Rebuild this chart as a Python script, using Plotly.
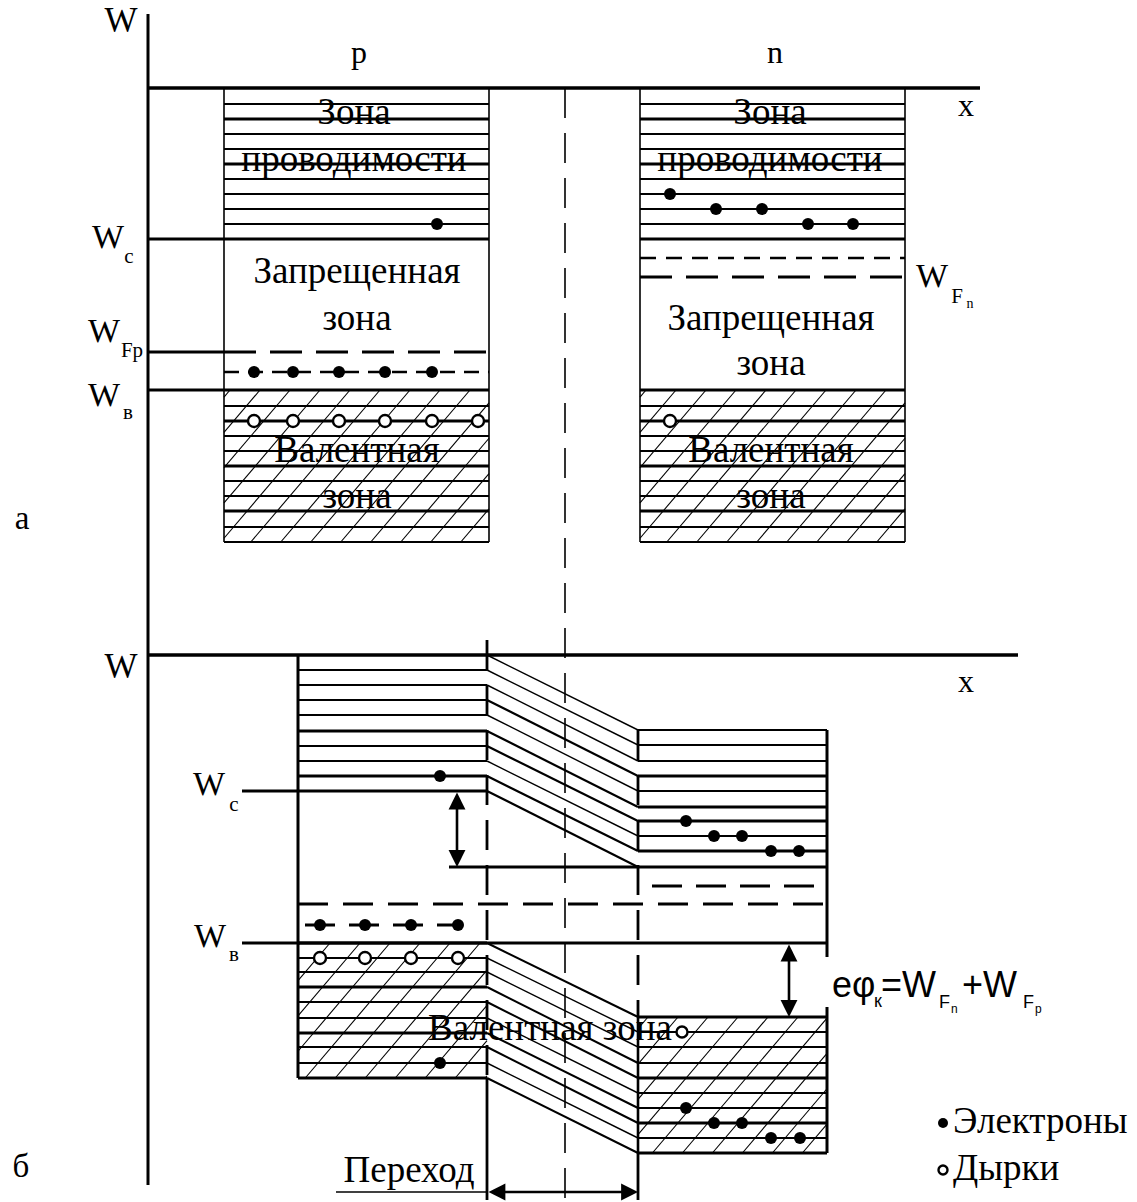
import plotly.graph_objects as go

SERIF = "Liberation Serif, Times New Roman, serif"
SANS = "Liberation Sans, Arial, sans-serif"

# ---------------- data (diagram energy levels, in drawing units) ----------------
# Panel a: separate p and n semiconductors
A_AXIS_Y = 88
A_COND_LEVELS = [88, 104, 119, 134, 149, 164, 179, 194, 209, 224, 239]
A_COND_THICK = [119, 164, 239]
A_VAL_LEVELS = [390, 406, 421, 436, 451, 466, 481, 496, 511, 527, 542]
A_VAL_THICK = [390, 421, 466, 511]
A_P_BOX = [224, 489]
A_N_BOX = [640, 905]
A_WC = 239
A_WFP = 352
A_ACCEPTOR = 372
A_WV = 390
A_DONOR = 258
A_WFN = 277
A_P_COND_E_X = [437]
A_P_COND_E_Y = [224]
A_ACC_E_X = [254, 293, 339, 385, 432]
A_P_HOLE_X = [254, 293, 339, 385, 432, 478]
A_P_HOLE_Y = 421
A_N_COND_E_X = [670, 716, 762, 808, 853]
A_N_COND_E_Y = [194, 209, 209, 224, 224]
A_N_HOLE_X = [670]
A_N_HOLE_Y = [421]

# Panel b: p-n junction
B_AXIS_Y = 655
B_P_X = [298, 487]
B_N_X = [638, 827]
B_P_COND = [655, 670, 685, 700, 715, 731, 746, 761, 776, 791]
B_N_COND = [730, 745, 761, 776, 791, 807, 821, 836, 851, 867]
B_P_COND_THICK = [731, 776, 791]
B_N_COND_THICK = [776, 807, 821, 851, 867]
B_P_VAL = [943, 958, 972, 987, 1002, 1018, 1033, 1047, 1063, 1078]
B_N_VAL = [1017, 1032, 1047, 1063, 1078, 1093, 1108, 1123, 1138, 1153]
B_P_VAL_THICK = [943, 987, 1033, 1078]
B_N_VAL_THICK = [1017, 1078, 1123, 1153]
B_WC = 791
B_WC_N = 867
B_WF = 904
B_DONOR = 886
B_ACCEPTOR = 925
B_WV = 943
B_ACC_E_X = [320, 365, 411, 458]
B_P_HOLE_X = [320, 365, 411, 458]
B_P_HOLE_Y = 958
B_P_COND_E = ([440], [776])
B_P_VAL_E = ([440], [1063])
B_N_COND_E_X = [686, 714, 742, 771, 799]
B_N_COND_E_Y = [821, 836, 836, 851, 851]
B_N_VAL_E_X = [686, 714, 742, 771, 800]
B_N_VAL_E_Y = [1108, 1123, 1123, 1138, 1138]
B_N_HOLE = ([682], [1032])

AXIS_X = 148
CENTER_X = 565

fig = go.Figure()

# ---------------- text (drawn first so lines cross over it) ----------------
def label(x, y, text, size, font=SERIF, pos="middle center"):
    fig.add_trace(go.Scatter(x=[x], y=[y], mode="text", text=[text],
                             textposition=pos,
                             textfont=dict(family=font, size=size, color="black"),
                             hoverinfo="skip"))

ZS = 37
label(121, 23, "W", 35)
label(359, 55, "p", 32)
label(775, 55, "n", 32)
label(966, 108, "x", 32)
label(108, 239, "W", 34); label(129, 258, "c", 21)
label(104, 333, "W", 34); label(132, 352, "Fp", 21)
label(104, 397, "W", 34); label(128, 414, "в", 21)
label(932, 278, "W", 34); label(957, 298, "F", 21); label(970, 304, "n", 14)
for cx in (354, 770):
    label(cx, 115, "Зона", ZS)
    label(cx, 162, "проводимости", ZS)
label(357, 274, "Запрещенная", ZS); label(357, 321, "зона", ZS)
label(771, 321, "Запрещенная", ZS); label(771, 366, "зона", ZS)
for cx in (357, 771):
    label(cx, 453, "Валентная", ZS)
    label(cx, 499, "зона", ZS)
label(22, 521, "а", 33)
label(21, 1169, "б", 33)

label(121, 669, "W", 35)
label(966, 684, "x", 32)
label(209, 786, "W", 34); label(234, 806, "c", 21)
label(210, 938, "W", 34); label(234, 956, "в", 21)
label(550, 1031, "Валентная зона", 37)
label(409, 1173, "Переход", 37)
label(953, 1124, "Электроны", 37, pos="middle right")
label(953, 1171, "Дырки", 37, pos="middle right")

# e phi label pieces
label(832, 988, "eφ", 36, SANS, "middle right")
label(874, 1002, "к", 18, SANS, "middle right")
label(881, 988, "=W", 36, SANS, "middle right")
label(939, 1003, "F", 18, SANS, "middle right")
label(951, 1010, "n", 12, SANS, "middle right")
label(962, 988, "+W", 36, SANS, "middle right")
label(1023, 1003, "F", 18, SANS, "middle right")
label(1035, 1010, "p", 12, SANS, "middle right")

# ---------------- line segments ----------------
segs = {}

def seg(x0, y0, x1, y1, w=2.0, dash="solid"):
    xs, ys = segs.setdefault((w, dash), ([], []))
    xs.extend([x0, x1, None])
    ys.extend([y0, y1, None])

def hatch(x0, x1, ytop, ybot, step=30.0, s=0.85, phase=0.0, w=1.1):
    H = ybot - ytop
    c = x0 - s * H + phase
    while c < x1:
        t0 = max(0.0, (x0 - c) / s)
        t1 = min(H, (x1 - c) / s)
        if t1 > t0:
            seg(c + s * t0, ybot - t0, c + s * t1, ybot - t1, w)
        c += step

# axes
seg(AXIS_X, 14, AXIS_X, 1185, 3)
seg(AXIS_X, A_AXIS_Y, 980, A_AXIS_Y, 3.5)
seg(AXIS_X, B_AXIS_Y, 1018, B_AXIS_Y, 3.5)
seg(CENTER_X, A_AXIS_Y, CENTER_X, 1200, 1.6, "30px,15px")

# panel a boxes
for bx in (A_P_BOX, A_N_BOX):
    seg(bx[0], A_AXIS_Y, bx[0], A_VAL_LEVELS[-1], 1.6)
    seg(bx[1], A_AXIS_Y, bx[1], A_VAL_LEVELS[-1], 1.6)
    for y in A_COND_LEVELS[1:]:
        seg(bx[0], y, bx[1], y, 3.2 if y in A_COND_THICK else 2.2)
    for y in A_VAL_LEVELS:
        seg(bx[0], y, bx[1], y, 3.2 if y in A_VAL_THICK else 2.2)
    hatch(bx[0], bx[1], A_VAL_LEVELS[0], A_VAL_LEVELS[-1], phase=6)

# panel a level extensions to axis
seg(AXIS_X, A_WC, A_P_BOX[0], A_WC, 3.2)
seg(AXIS_X, A_WV, A_P_BOX[0], A_WV, 3.2)
seg(AXIS_X, A_WFP, A_P_BOX[0], A_WFP, 3)
seg(A_P_BOX[0], A_WFP, A_P_BOX[1], A_WFP, 3, "32px,14px")
seg(A_P_BOX[0], A_ACCEPTOR, A_P_BOX[1], A_ACCEPTOR, 2.6, "15px,9px")
seg(A_N_BOX[0], A_DONOR, A_N_BOX[1], A_DONOR, 2.4, "16px,10px")
seg(A_N_BOX[0], A_WFN, A_N_BOX[1], A_WFN, 3, "32px,14px")

# panel b conduction band (p, junction slope, n)
for yp, yn in zip(B_P_COND, B_N_COND):
    if yp != B_AXIS_Y:
        seg(B_P_X[0], yp, B_P_X[1], yp, 3.2 if yp in B_P_COND_THICK else 2.2)
    seg(B_N_X[0], yn, B_N_X[1], yn, 3.2 if yn in B_N_COND_THICK else 2.2)
    thick = (yp in B_P_COND_THICK) or (yn in B_N_COND_THICK)
    seg(B_P_X[1], yp, B_N_X[0], yn, 2.2 if thick else 1.4)
# valence band
for yp, yn in zip(B_P_VAL, B_N_VAL):
    seg(B_P_X[0], yp, B_P_X[1], yp, 3.2 if yp in B_P_VAL_THICK else 2.2)
    seg(B_N_X[0], yn, B_N_X[1], yn, 3.2 if yn in B_N_VAL_THICK else 2.2)
    thick = (yp in B_P_VAL_THICK) or (yn in B_N_VAL_THICK)
    seg(B_P_X[1], yp, B_N_X[0], yn, 2.0 if thick else 1.4)
hatch(B_P_X[0], B_P_X[1], B_P_VAL[0], B_P_VAL[-1], phase=2)
hatch(B_N_X[0], B_N_X[1], B_N_VAL[0], B_N_VAL[-1], phase=10)

# box edges panel b
seg(B_P_X[0], B_AXIS_Y, B_P_X[0], B_P_VAL[-1], 3)
seg(B_N_X[1], B_N_COND[0], B_N_X[1], 957, 3)
seg(B_N_X[1], 1007, B_N_X[1], B_N_VAL[-1], 3)
seg(B_N_X[0], B_N_VAL[0], B_N_X[0], B_N_VAL[-1], 2.6)
# junction boundaries
seg(B_P_X[1], 640, B_P_X[1], B_P_VAL[-1], 2.8, "30px,15px")
seg(B_P_X[1], B_P_VAL[-1], B_P_X[1], 1200, 2.8)
seg(B_N_X[0], B_N_COND[0], B_N_X[0], B_N_VAL[0], 2.8, "30px,15px")
seg(B_N_X[0], B_N_VAL[-1], B_N_X[0], 1200, 2.8)

# level extensions and Fermi levels panel b
seg(242, B_WC, B_P_X[0], B_WC, 3.2)
seg(449, B_WC_N, B_N_X[0], B_WC_N, 3.2)
seg(242, B_WV, B_N_X[1], B_WV, 3.2)
seg(B_P_X[0], B_WF, B_N_X[1], B_WF, 2.8, "30px,15px")
seg(652, B_DONOR, B_N_X[1], B_DONOR, 2.8, "30px,14px")
seg(305, B_ACCEPTOR, 462, B_ACCEPTOR, 2.8, "30px,14px")
# underline of "Переход"
seg(336, 1192, B_P_X[1], 1192, 1.5)

for (w, dash), (xs, ys) in segs.items():
    fig.add_trace(go.Scatter(x=xs, y=ys, mode="lines",
                             line=dict(color="black", width=w, dash=dash),
                             hoverinfo="skip"))

# ---------------- carriers ----------------
def electrons(xs, ys, size=12):
    fig.add_trace(go.Scatter(x=xs, y=ys, mode="markers",
                             marker=dict(symbol="circle", size=size, color="black"),
                             hoverinfo="skip"))

def holes(xs, ys, size=12):
    fig.add_trace(go.Scatter(x=xs, y=ys, mode="markers",
                             marker=dict(symbol="circle", size=size, color="white",
                                         line=dict(color="black", width=2.4)),
                             hoverinfo="skip"))

electrons(A_P_COND_E_X, A_P_COND_E_Y)
electrons(A_ACC_E_X, [A_ACCEPTOR] * len(A_ACC_E_X))
holes(A_P_HOLE_X, [A_P_HOLE_Y] * len(A_P_HOLE_X))
electrons(A_N_COND_E_X, A_N_COND_E_Y)
holes(A_N_HOLE_X, A_N_HOLE_Y)

electrons(B_ACC_E_X, [B_ACCEPTOR] * len(B_ACC_E_X))
holes(B_P_HOLE_X, [B_P_HOLE_Y] * len(B_P_HOLE_X))
electrons(*B_P_COND_E)
electrons(*B_P_VAL_E)
electrons(B_N_COND_E_X, B_N_COND_E_Y)
electrons(B_N_VAL_E_X, B_N_VAL_E_Y)
holes(*B_N_HOLE, size=11)
# legend markers
electrons([943], [1123], size=10)
holes([943], [1170], size=9)

# ---------------- arrows ----------------
def darrow(x0, y0, x1, y1):
    fig.add_annotation(x=x1, y=y1, ax=x0, ay=y0, xref="x", yref="y", axref="x", ayref="y",
                       text="", showarrow=True, arrowside="end+start",
                       arrowhead=2, startarrowhead=2, arrowsize=1.3, startarrowsize=1.3,
                       arrowwidth=2.6, arrowcolor="black", standoff=0, startstandoff=0)

darrow(457, B_WC, 457, B_WC_N)
darrow(789, B_WV, 789, B_N_VAL[0])
darrow(B_P_X[1], 1192, B_N_X[0], 1192)

fig.update_layout(
    width=1137, height=1202, margin=dict(l=0, r=0, t=0, b=0),
    paper_bgcolor="white", plot_bgcolor="white", showlegend=False,
    xaxis=dict(range=[0, 1137], visible=False, fixedrange=True),
    yaxis=dict(range=[1202, 0], visible=False, fixedrange=True),
)

fig.write_html("out.html", config={"displayModeBar": False},
               post_script="document.body.style.margin='0';")
